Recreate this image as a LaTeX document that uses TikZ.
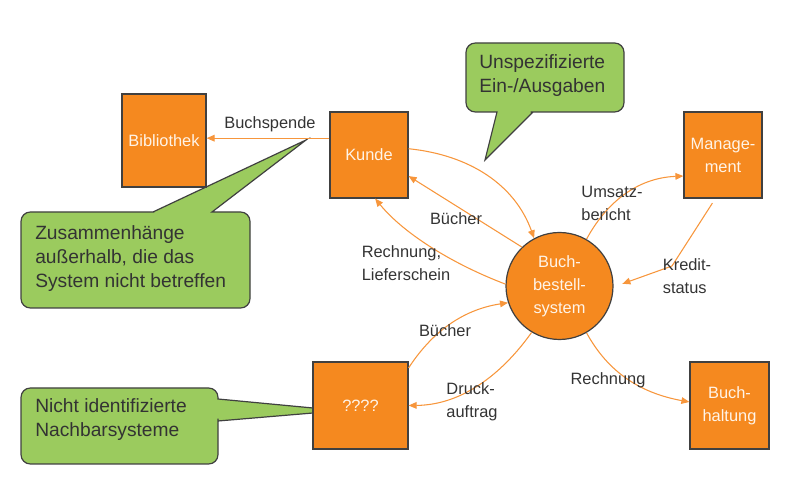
\documentclass[tikz,border=0pt]{standalone}
\usepackage{fontspec}
\setmainfont{Liberation Sans}
\usetikzlibrary{arrows.meta}
\definecolor{boxor}{HTML}{F5891F}
\definecolor{lineor}{HTML}{F7963C}
\definecolor{cgreen}{HTML}{9BCB5E}
\definecolor{bord}{HTML}{404040}
\definecolor{txt}{HTML}{333333}
\definecolor{wtxt}{HTML}{FFF4E8}
\begin{document}
\begin{tikzpicture}[x=0.75pt,y=-0.75pt,
  sysbox/.style={draw=bord,line width=0.9pt,fill=boxor,text=wtxt,
    font=\fontsize{12.3}{17.3}\selectfont,align=center,inner sep=0pt},
  flow/.style={draw=lineor,line width=0.8pt,-{Triangle[length=6pt,width=5pt]}},
  flab/.style={text=txt,font=\fontsize{12.3}{17.3}\selectfont,align=left,inner sep=0pt},
  callout/.style={draw=bord,line width=0.9pt,fill=cgreen},
  ctext/.style={text=txt,font=\fontsize{14.4}{18}\selectfont,align=left,inner sep=0pt,anchor=west}]
\useasboundingbox (0,0) rectangle (797,484);

% callouts
\draw[callout] (485,160) -- (497,112) -- (490,112) [rounded corners=7pt] -- (466,112) -- (466,43) -- (624,43) -- (624,112) -- (540,112) [sharp corners] -- (533,112) -- cycle;
\node[ctext] (c1) at (479,75.5) {Unspezifizierte\\Ein-/Ausgaben};

\draw[callout] (306,140) -- (212,212) -- (220,212) [rounded corners=7pt] -- (250,212) -- (250,308) -- (21,308) -- (21,212) -- (145,212) [sharp corners] -- (153,212) -- cycle;
\node[ctext] (c2) at (35,258.5) {Zusammenhänge\\außerhalb, die das\\System nicht betreffen};

\draw[callout] (313,408) -- (218,399) -- (218,398) [rounded corners=7pt] -- (218,388) -- (21,388) -- (21,464) -- (218,464) -- (218,428) [sharp corners] -- (218,421) -- (313,413) -- cycle;
\node[ctext] (c3) at (35,420) {Nicht identifizierte\\Nachbarsysteme};

% system nodes
\node[sysbox,minimum width=63pt,minimum height=69.75pt] (bib) at (164,140.5) {Bibliothek};
\node[sysbox,minimum width=58.5pt,minimum height=64.5pt] (kunde) at (369,155) {Kunde};
\node[sysbox,minimum width=58.5pt,minimum height=64.5pt] (mgmt) at (723,155) {Manage-\\ment};
\node[sysbox,minimum width=59.25pt,minimum height=65.25pt] (bh) at (729.5,405.5) {Buch-\\haltung};
\node[sysbox,minimum width=71.25pt,minimum height=65.25pt] (q) at (360.5,405.5) {????};
\node[sysbox,circle,minimum size=80.25pt] (bbs) at (559.5,286) {Buch-\\bestell-\\system};

% connectors
\draw[flow] (kunde.157) -- (kunde.157 -| bib.east);
\node[flab] (l1) at (270,124) {Buchspende};

\draw[flow] (kunde.9) .. controls (470,155) and (515,185) .. (bbs.118);

\draw[flow] (bbs.134) -- (kunde.-28);
\node[flab] (l2) at (456,219) {Bücher};

\draw[flow] (bbs.178) .. controls (455,265) and (405,235) .. (kunde.-82);
\node[flab] (l3) at (406,263) {Rechnung,\\Lieferschein};

\draw[flow] (bbs.60) .. controls (605,205) and (635,178) .. (mgmt.-152);
\node[flab] (l4) at (612,203) {Umsatz-\\bericht};

\coordinate (kb) at (672,266);
\draw[flow,shorten <=4pt,shorten >=7pt] (mgmt.-100) -- (kb) -- (bbs.-1);
\node[flab] (l5) at (687,276) {Kredit-\\status};

\draw[flow] (bbs.-60) .. controls (608,372) and (640,393) .. (bh.175);
\node[flab] (l6) at (608,380) {Rechnung};

\draw[flow] (bbs.-121) .. controls (505,370) and (465,405) .. (q.0);
\node[flab] (l7) at (472,402) {Druck-\\auftrag};

\draw[flow] (q.38) .. controls (430,335) and (460,310) .. (bbs.-162);
\node[flab] (l8) at (445,331) {Bücher};
\end{tikzpicture}
\end{document}
